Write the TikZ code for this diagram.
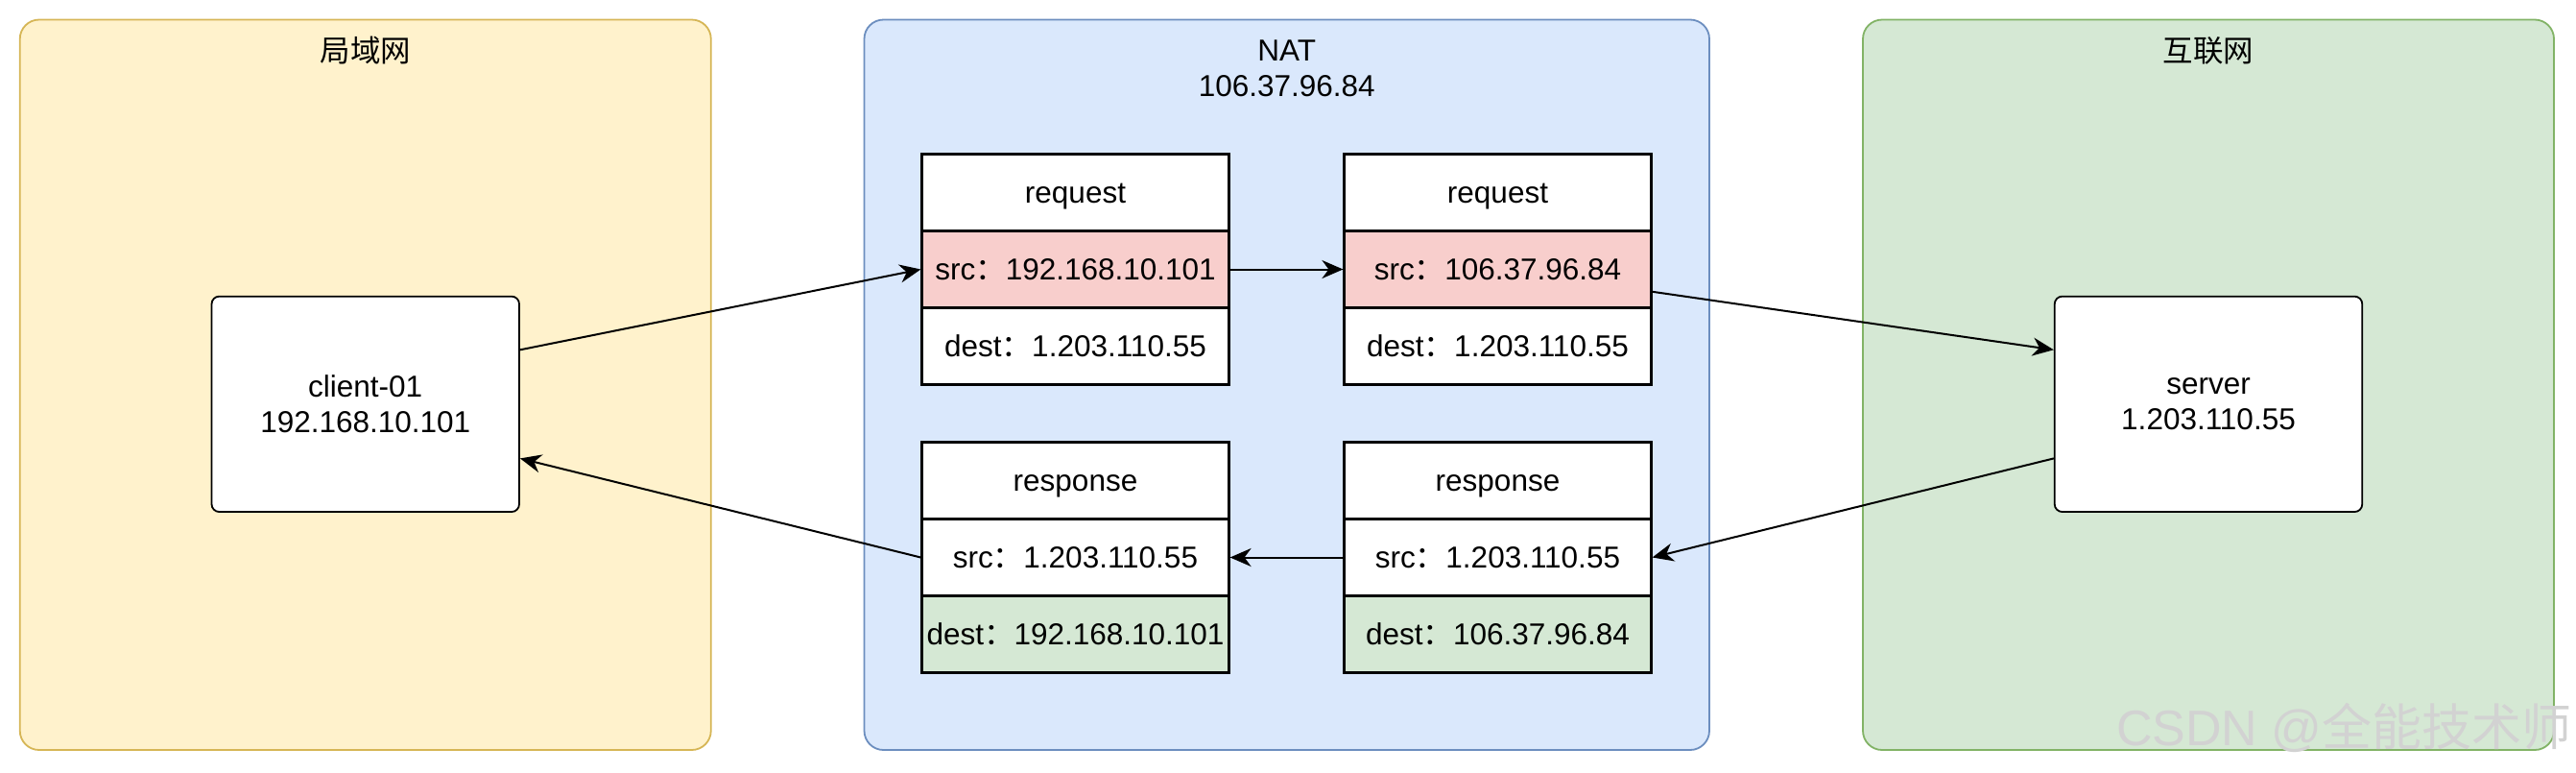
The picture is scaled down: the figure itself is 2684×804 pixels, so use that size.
\documentclass[tikz,border=0pt]{standalone}
\usepackage{fontspec}
\setmainfont{Liberation Sans}
\newfontfamily\cjk{Noto Sans CJK SC}
\usetikzlibrary{arrows.meta,calc,fit}
\definecolor{lanfill}{HTML}{FFF2CC}
\definecolor{landraw}{HTML}{D6B656}
\definecolor{natfill}{HTML}{DAE8FC}
\definecolor{natdraw}{HTML}{6C8EBF}
\definecolor{netfill}{HTML}{D5E8D4}
\definecolor{netdraw}{HTML}{82B366}
\definecolor{redcell}{HTML}{F8CECC}
\definecolor{greencell}{HTML}{D5E8D4}
\definecolor{wmgray}{HTML}{D2D2D2}
\newcommand{\fc}{{\cjk ：}}
\begin{document}
\begin{tikzpicture}[x=0.5pt,y=-0.5pt,
  font=\fontsize{15.75}{18.5}\selectfont,
  zone/.style={draw, line width=0.9pt, rounded corners=10pt, minimum width=360pt, minimum height=380.25pt, inner sep=0pt},
  zonetitle/.style={align=center, inner sep=0pt},
  hostbox/.style={draw, fill=white, line width=0.9pt, rounded corners=4pt, minimum width=160.25pt, minimum height=112.2pt, align=center, inner sep=0pt},
  cell/.style={draw, fill=white, line width=1.1pt, minimum width=160pt, minimum height=40pt, inner sep=0pt, text height=14.5pt, text depth=3.2pt},
  flow/.style={draw, line width=1pt, -{Stealth[length=11pt,width=9.5pt,inset=3.5pt]}}
]
\useasboundingbox (0,0) rectangle (2684,804);
\fill[white] (0,0) rectangle (2684,804);

% zones
\node[zone, fill=lanfill, draw=landraw] (lan) at (380.75,400.75) {};
\node[zone, fill=natfill, draw=natdraw, minimum width=440.25pt] (nat) at (1340.75,400.75) {};
\node[zone, fill=netfill, draw=netdraw] (net) at (2301,400.75) {};
\node[zonetitle] (lant) at (380.75,53) {\cjk 局域网};
\node[zonetitle] (natt) at (1340.75,71) {NAT\\106.37.96.84};
\node[zonetitle] (nett) at (2301,53) {\cjk 互联网};

% hosts
\node[hostbox] (client) at (380.75,420.85) {client-01\\192.168.10.101};
\node[hostbox] (server) at (2301,420.85) {server\\1.203.110.55};

% request tables
\node[cell] (q1h) at (1120.5,200.5) {request};
\node[cell, fill=redcell] (q1s) at (1120.5,280.5) {src\fc 192.168.10.101};
\node[cell] (q1d) at (1120.5,360.5) {dest\fc 1.203.110.55};
\node[cell] (q2h) at (1560.5,200.5) {request};
\node[cell, fill=redcell] (q2s) at (1560.5,280.5) {src\fc 106.37.96.84};
\node[cell] (q2d) at (1560.5,360.5) {dest\fc 1.203.110.55};
\node[fit=(q2h)(q2d), inner sep=0pt] (q2) {};

% response tables
\node[cell] (p1h) at (1120.5,500.5) {response};
\node[cell] (p1s) at (1120.5,580.5) {src\fc 1.203.110.55};
\node[cell, fill=greencell] (p1d) at (1120.5,660.5) {dest\fc 192.168.10.101};
\node[cell] (p2h) at (1560.5,500.5) {response};
\node[cell] (p2s) at (1560.5,580.5) {src\fc 1.203.110.55};
\node[cell, fill=greencell] (p2d) at (1560.5,660.5) {dest\fc 106.37.96.84};

% connection points
\coordinate (cA) at ($(client.north east)!0.25!(client.south east)$);
\coordinate (cB) at ($(client.north east)!0.75!(client.south east)$);
\coordinate (sA) at ($(server.north west)!0.25!(server.south west)$);
\coordinate (sB) at ($(server.north west)!0.75!(server.south west)$);

% arrows
\draw[flow] (cA) -- (q1s.west);
\draw[flow] (q1s) -- (q2s);
\draw[flow] (q2) -- (sA);
\draw[flow] (sB) -- (p2s.east);
\draw[flow] (p2s) -- (p1s);
\draw[flow] (p1s.west) -- (cB);

% watermark
\node[anchor=east, text=wmgray, font=\fontsize{26}{26}\selectfont, inner sep=0pt] (wm) at (2680,758) {CSDN @{\cjk 全能技术师}};
\end{tikzpicture}
\end{document}
